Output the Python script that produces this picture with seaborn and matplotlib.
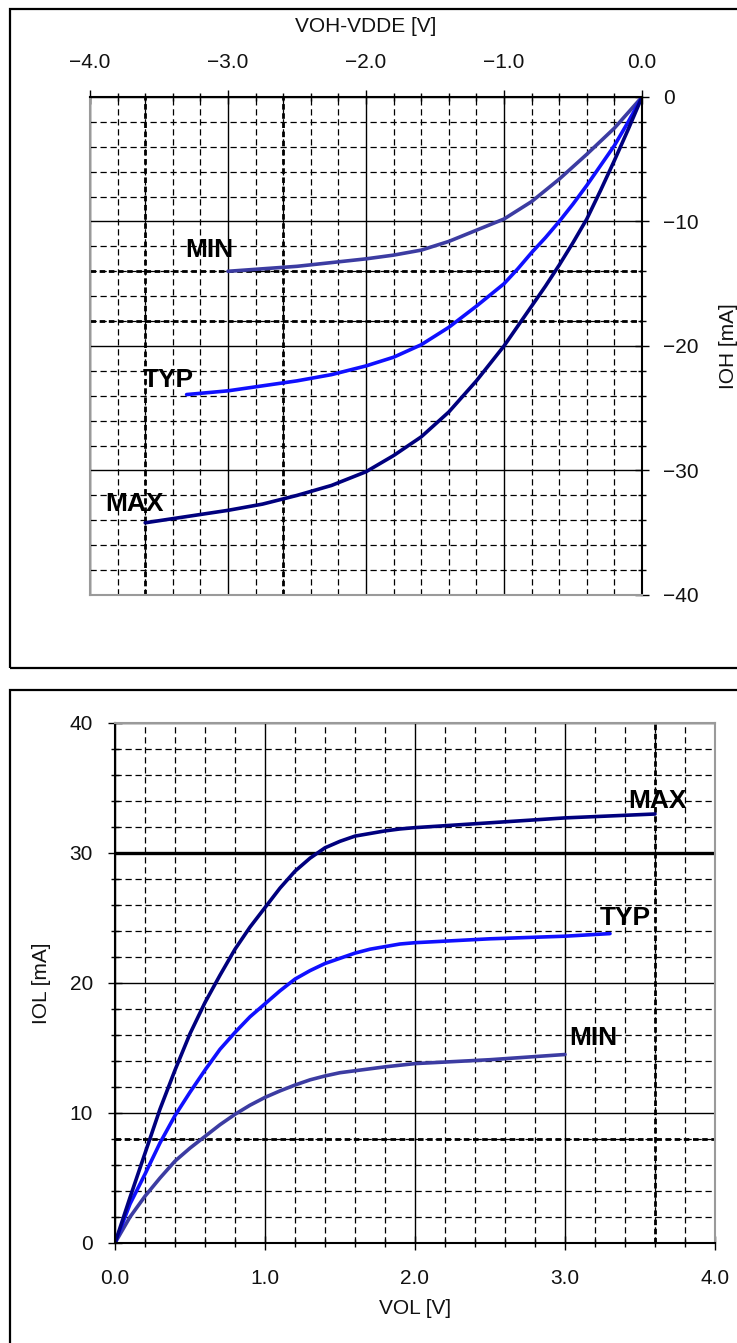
import matplotlib
matplotlib.use("Agg")
import matplotlib.pyplot as plt
import seaborn as sns
import pandas as pd
from matplotlib.patches import Rectangle
from matplotlib.ticker import MultipleLocator, FuncFormatter

# ---------------- data: output high (VOH-VDDE [V] vs IOH [mA]) ----------------
oh_min_v = [-3.0, -2.5, -2.0, -1.8, -1.6, -1.4, -1.2, -1.0, -0.8, -0.6, -0.4, -0.2, 0.0]
oh_min_i = [-14.0, -13.6, -13.0, -12.7, -12.3, -11.6, -10.7, -9.8, -8.4, -6.6, -4.6, -2.5, 0.0]

oh_typ_v = [-3.3, -3.0, -2.75, -2.5, -2.25, -2.0, -1.8, -1.6, -1.4, -1.2, -1.0, -0.9, -0.8,
            -0.7, -0.6, -0.5, -0.4, -0.3, -0.2, -0.1, 0.0]
oh_typ_i = [-23.9, -23.6, -23.2, -22.8, -22.3, -21.6, -20.9, -19.9, -18.5, -16.8, -15.0, -13.8, -12.5,
            -11.3, -10.0, -8.6, -7.1, -5.5, -3.9, -2.0, 0.0]

oh_max_v = [-3.6, -3.3, -3.0, -2.75, -2.5, -2.25, -2.0, -1.8, -1.6, -1.4, -1.2, -1.0, -0.9, -0.8,
            -0.7, -0.6, -0.5, -0.4, -0.3, -0.2, -0.1, 0.0]
oh_max_i = [-34.2, -33.7, -33.2, -32.7, -32.0, -31.2, -30.1, -28.8, -27.3, -25.3, -22.8, -20.0, -18.4, -16.8,
            -15.2, -13.5, -11.7, -9.8, -7.5, -5.1, -2.6, 0.0]

oh_ref_v = [-3.6, -2.6]      # dotted reference lines (V)
oh_ref_i = [-14, -18]        # dotted reference lines (mA)

# ---------------- data: output low (VOL [V] vs IOL [mA]) ----------------
ol_min_v = [0.0, 0.1, 0.2, 0.3, 0.4, 0.5, 0.6, 0.7, 0.8, 0.9, 1.0, 1.1, 1.2, 1.3, 1.4, 1.5, 1.6,
            1.8, 2.0, 2.5, 3.0]
ol_min_i = [0.0, 2.0, 3.6, 5.0, 6.3, 7.3, 8.2, 9.1, 9.9, 10.6, 11.2, 11.7, 12.15, 12.55, 12.85, 13.1, 13.25,
            13.55, 13.8, 14.1, 14.5]

ol_typ_v = [0.0, 0.1, 0.2, 0.3, 0.4, 0.5, 0.6, 0.7, 0.8, 0.9, 1.0, 1.1, 1.2, 1.3, 1.4, 1.5, 1.6,
            1.7, 1.8, 1.9, 2.0, 2.25, 2.5, 2.75, 3.0, 3.3]
ol_typ_i = [0.0, 3.0, 5.3, 7.7, 9.8, 11.6, 13.3, 14.9, 16.2, 17.4, 18.4, 19.4, 20.3, 20.95, 21.5, 21.9, 22.3,
            22.6, 22.8, 23.0, 23.1, 23.25, 23.4, 23.5, 23.6, 23.8]

ol_max_v = [0.0, 0.1, 0.2, 0.3, 0.4, 0.5, 0.6, 0.7, 0.8, 0.9, 1.0, 1.1, 1.2, 1.3, 1.4, 1.5, 1.6,
            1.7, 1.8, 1.9, 2.0, 2.2, 2.4, 2.6, 2.8, 3.0, 3.2, 3.4, 3.6]
ol_max_i = [0.0, 3.5, 6.9, 10.3, 13.3, 16.1, 18.5, 20.6, 22.6, 24.3, 25.8, 27.3, 28.6, 29.6, 30.4, 30.9, 31.3,
            31.5, 31.7, 31.85, 31.95, 32.1, 32.25, 32.4, 32.55, 32.7, 32.8, 32.9, 33.0]

ol_ref_v = [3.6]
ol_ref_i = [8]
ol_bold_i = [30]

series_names = ["MIN", "TYP", "MAX"]
colors = {"MIN": "#3c3ca2", "TYP": "#1010ff", "MAX": "#00007e"}

# ---------------- style ----------------
sns.set_style("white")
plt.rcParams['font.family'] = ['Liberation Sans', 'DejaVu Sans']
TXT = "#111111"

W, H = 737, 1343
fig = plt.figure(figsize=(W / 100, H / 100), dpi=100)
fig.patch.set_facecolor("white")


def add_ax(l, t, r, b):
    return fig.add_axes([l / W, 1 - b / H, (r - l) / W, (b - t) / H])


# outer frames
fig.add_artist(Rectangle((10 / W, 1 - 668 / H), 1.0, (668 - 9) / H, transform=fig.transFigure,
                         fill=False, lw=1.6, ec="black"))
fig.add_artist(Rectangle((10 / W, -0.05), 1.0, 1 - 690 / H + 0.05, transform=fig.transFigure,
                         fill=False, lw=1.6, ec="black"))

ax1 = add_ax(90, 97, 642, 595)
ax2 = add_ax(115, 723, 715, 1243)


def setup_grid(ax):
    ax.xaxis.set_major_locator(MultipleLocator(1.0))
    ax.xaxis.set_minor_locator(MultipleLocator(0.2))
    ax.yaxis.set_major_locator(MultipleLocator(10))
    ax.yaxis.set_minor_locator(MultipleLocator(2))
    ax.grid(which="major", color="black", lw=1.0, ls="-")
    ax.grid(which="minor", color="black", lw=0.9, ls=(0, (5, 3)))
    ax.set_axisbelow(True)
    ax.tick_params(which="major", direction="inout", length=10, width=1.0, color="black",
                   labelsize=15, labelcolor=TXT)
    ax.tick_params(which="minor", direction="inout", length=6, width=1.0, color="black")


def draw(ax, vs, is_, name):
    df = pd.DataFrame({"V": vs, "I": is_})
    sns.lineplot(data=df, x="V", y="I", ax=ax, color=colors[name], linewidth=2.6,
                 estimator=None, sort=False, solid_joinstyle="round", solid_capstyle="round")


# ---------------- top chart ----------------
setup_grid(ax1)
for name, v, i in zip(series_names, [oh_min_v, oh_typ_v, oh_max_v], [oh_min_i, oh_typ_i, oh_max_i]):
    draw(ax1, v, i, name)
for xv in oh_ref_v:
    ax1.axvline(xv, color="black", lw=2.0, ls=(0, (2, 1.3)), zorder=1.5)
for yv in oh_ref_i:
    ax1.axhline(yv, color="black", lw=2.0, ls=(0, (2, 1.3)), zorder=1.5)
ax1.set_xlim(-4, 0)
ax1.set_ylim(-40, 0)
ax1.xaxis.tick_top()
ax1.yaxis.tick_right()
ax1.tick_params(which="both", top=True, bottom=False, right=True, left=False,
                labeltop=True, labelbottom=False, labelright=True, labelleft=False)
ax1.tick_params(axis="x", which="major", pad=13)
ax1.tick_params(axis="y", which="major", pad=10)
ax1.xaxis.set_major_formatter(FuncFormatter(lambda v, p: f"{v:.1f}".replace("-", "\u2212")))
ax1.yaxis.set_major_formatter(FuncFormatter(lambda v, p: f"{v:.0f}".replace("-", "\u2212")))
ax1.xaxis.set_label_position("top")
ax1.yaxis.set_label_position("right")
ax1.set_xlabel("VOH-VDDE [V]", fontsize=15, color=TXT, labelpad=15)
ax1.set_ylabel("IOH [mA]", fontsize=15, color=TXT, labelpad=15, rotation=90)
for s in ["top", "right"]:
    ax1.spines[s].set_color("black"); ax1.spines[s].set_linewidth(1.5)
for s in ["left", "bottom"]:
    ax1.spines[s].set_color("#9a9a9a"); ax1.spines[s].set_linewidth(1.5)

lab_kw = dict(fontsize=19, fontweight="bold", color="black", ha="left", va="center")
ax1.text(-3.31, -12.3, "MIN", **lab_kw)
ax1.text(-3.62, -22.7, "TYP", **lab_kw)
ax1.text(-3.89, -32.7, "MAX", **lab_kw)

# ---------------- bottom chart ----------------
setup_grid(ax2)
for name, v, i in zip(series_names, [ol_min_v, ol_typ_v, ol_max_v], [ol_min_i, ol_typ_i, ol_max_i]):
    draw(ax2, v, i, name)
for xv in ol_ref_v:
    ax2.axvline(xv, color="black", lw=2.0, ls=(0, (2, 1.3)), zorder=1.5)
for yv in ol_ref_i:
    ax2.axhline(yv, color="black", lw=2.0, ls=(0, (2, 1.3)), zorder=1.5)
for yv in ol_bold_i:
    ax2.axhline(yv, color="black", lw=2.4, ls="-", zorder=1.5)
ax2.set_xlim(0, 4)
ax2.set_ylim(0, 40)
ax2.tick_params(which="both", top=False, bottom=True, right=False, left=True)
ax2.tick_params(axis="x", which="major", pad=14)
ax2.tick_params(axis="y", which="major", pad=11)
ax2.xaxis.set_major_formatter(FuncFormatter(lambda v, p: f"{v:.1f}"))
ax2.yaxis.set_major_formatter(FuncFormatter(lambda v, p: f"{v:.0f}"))
ax2.set_xlabel("VOL [V]", fontsize=15, color=TXT, labelpad=8)
ax2.set_ylabel("IOL [mA]", fontsize=15, color=TXT, labelpad=13)
for s in ["left", "bottom"]:
    ax2.spines[s].set_color("black"); ax2.spines[s].set_linewidth(1.5)
for s in ["top", "right"]:
    ax2.spines[s].set_color("#9a9a9a"); ax2.spines[s].set_linewidth(1.5)

ax2.text(3.42, 34.0, "MAX", **lab_kw)
ax2.text(3.23, 25.0, "TYP", **lab_kw)
ax2.text(3.03, 15.8, "MIN", **lab_kw)

fig.savefig("out.png", dpi=100)
